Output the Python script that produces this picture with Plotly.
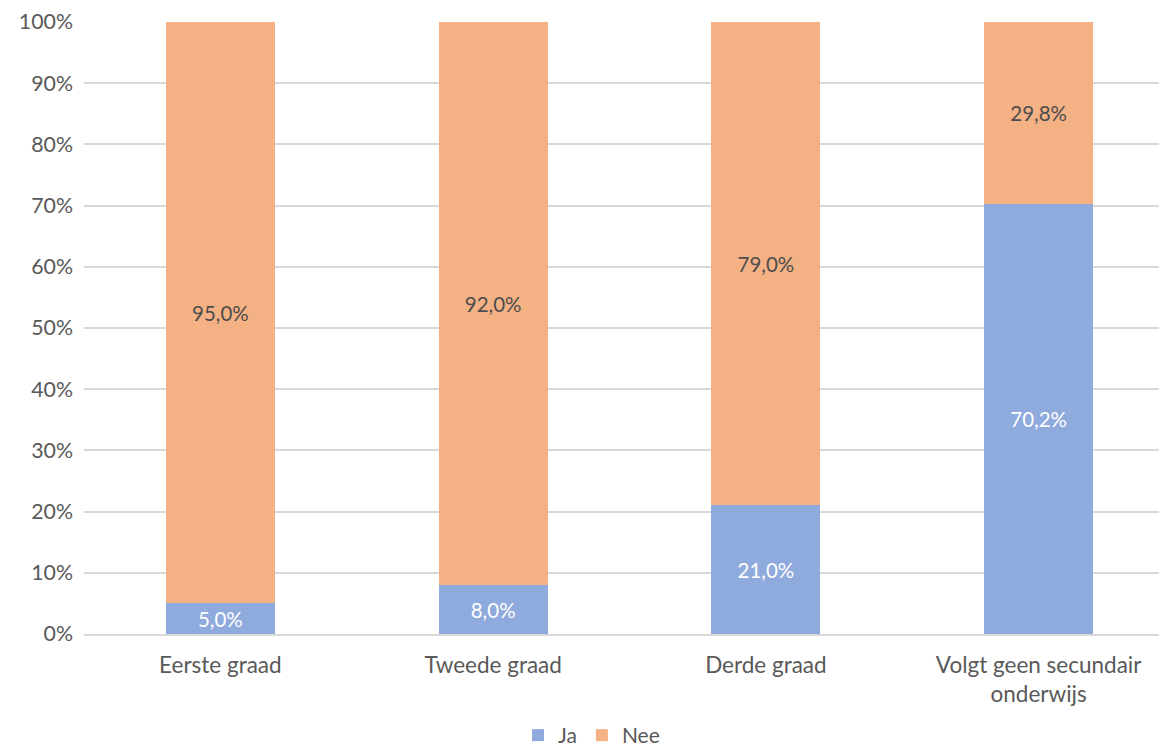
import plotly.graph_objects as go

categories = ["Eerste graad", "Tweede graad", "Derde graad", "Volgt geen secundair<br>onderwijs"]
ja = [5.0, 8.0, 21.0, 70.2]
nee = [95.0, 92.0, 79.0, 29.8]
tick_vals = [0, 10, 20, 30, 40, 50, 60, 70, 80, 90, 100]
tick_text = [f"{v}%" for v in tick_vals]

def fmt(v):
    return f"{v:.1f}%".replace(".", ",")

font_family = "Lato, Calibri, Carlito, sans-serif"

fig = go.Figure()
fig.add_trace(go.Bar(
    x=categories, y=ja, name="Ja",
    marker=dict(color="#8FAADC", line=dict(width=0)),
    text=[fmt(v) for v in ja], textposition="inside", insidetextanchor="middle",
    textfont=dict(color="#FFFFFF", size=20.5, family=font_family),
    hoverinfo="skip",
))
fig.add_trace(go.Bar(
    x=categories, y=nee, name="Nee",
    marker=dict(color="#F4B183", line=dict(width=0)),
    text=[fmt(v) for v in nee], textposition="inside", insidetextanchor="middle",
    textfont=dict(color="#4D4D4D", size=20.5, family=font_family),
    hoverinfo="skip",
))

fig.update_layout(
    barmode="stack",
    bargap=0.6,
    width=1167, height=748,
    margin=dict(l=76, r=0, t=14, b=122),
    paper_bgcolor="white", plot_bgcolor="white",
    font=dict(family=font_family, color="#595959", size=20),
    uniformtext=dict(minsize=10, mode="show"),
    legend=dict(orientation="h", xref="container", yref="container",
                x=0.50, xanchor="center", y=0.0, yanchor="bottom",
                font=dict(size=21, color="#595959"), traceorder="normal",
                itemwidth=30, tracegroupgap=0),
    xaxis=dict(showline=True, linecolor="#D9D9D9", linewidth=1.5, automargin=False,
               tickfont=dict(size=22.5, color="#595959"), ticks="",
               ticklabelstandoff=10),
    yaxis=dict(range=[0, 100], tickvals=tick_vals, ticktext=tick_text,
               showgrid=True, gridcolor="#D9D9D9", gridwidth=1.5, automargin=False,
               zeroline=False, tickfont=dict(size=21.3, color="#595959"),
               ticklabelstandoff=10, ticks=""),
)

fig.write_html("out.html")
